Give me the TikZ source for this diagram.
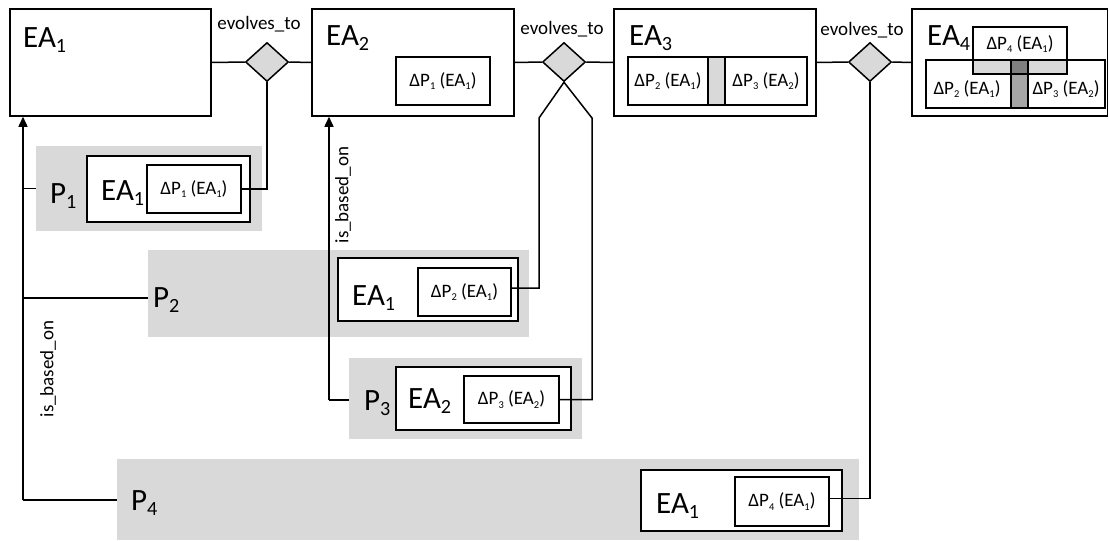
\documentclass[tikz,border=0pt]{standalone}
\usepackage{fontspec}
\setmainfont{Carlito}
\usepackage{graphicx}
\usetikzlibrary{shapes.geometric,arrows.meta,fit}
\definecolor{lgray}{HTML}{D9D9D9}
\definecolor{mgray}{HTML}{A6A6A6}
\definecolor{dgray}{HTML}{7F7F7F}
\newcommand\bsub[1]{\raisebox{-0.17em}{\scalebox{0.65}{#1}}}
\newcommand\ssub[1]{\raisebox{-0.2em}{\scalebox{0.55}{#1}}}
\newcommand\dP[2]{ΔP\ssub{#1} (EA\ssub{#2})}
\begin{document}
\begin{tikzpicture}[x=1pt,y=-1pt,
  bx/.style={draw,line width=1.5pt,fill=white,inner sep=0pt,rectangle},
  grayarea/.style={fill=lgray,draw=none,inner sep=0pt,rectangle},
  dia/.style={diamond,draw,line width=1.5pt,fill=lgray,minimum width=43pt,minimum height=39pt,inner sep=0pt},
  ln/.style={line width=1.5pt},
  arr/.style={-{Triangle[width=9pt,length=10pt]}},
  big/.style={font=\fontsize{31}{36}\selectfont,inner sep=0pt,anchor=base west},
  small/.style={font=\fontsize{19}{22}\selectfont,inner sep=0pt},
  lab/.style={font=\fontsize{19}{22}\selectfont,inner sep=0pt}]
\useasboundingbox (0,0) rectangle (1109,541);

% top row
\node[bx,fit={(10,9) (211,116)}] (ea1top) {};
\node[bx,fit={(312,9) (514,116)}] (ea2top) {};
\node[bx,fit={(614,9) (816,116)}] (ea3top) {};
\node[bx,fit={(912,9) (1107.5,116)}] (ea4top) {};
\node[big] (ea1lab) at (23,47) {EA\bsub{1}};
\node[big] (ea2lab) at (326,45) {EA\bsub{2}};
\node[big] (ea3lab) at (629,45) {EA\bsub{3}};
\node[big] (ea4lab) at (927,45) {EA\bsub{4}};

% EA2 content
\node[bx,fit={(396,57) (490,105)}] (e2d1) {};
\node[small] at (e2d1.center) {\dP{1}{1}};

% EA3 content
\draw[ln,fill=white] (628,57) rectangle (807,105);
\draw[ln,fill=lgray] (708,57) rectangle (725,105);
\node[small] (e3a) at (668,81) {\dP{2}{1}};
\node[small] (e3b) at (766,81) {\dP{3}{2}};

% EA4 content
\fill[white] (926,60) rectangle (1105,108);
\fill[white] (973,27) rectangle (1067,74);
\fill[lgray] (973,60) rectangle (1067,74);
\fill[mgray] (1011,74) rectangle (1028,108);
\fill[dgray] (1011,60) rectangle (1028,74);
\draw[ln] (926,60) rectangle (1105,108);
\draw[ln] (973,27) rectangle (1067,74);
\draw[ln] (1011,60) rectangle (1028,108);
\node[small] (e4a) at (1020,44) {\dP{4}{1}};
\node[small] (e4b) at (967,89) {\dP{2}{1}};
\node[small] (e4c) at (1066,89) {\dP{3}{2}};

% diamonds
\node[dia] (dm1) at (267,62) {};
\node[dia] (dm2) at (564,62) {};
\node[dia] (dm3) at (870,62) {};
\node[lab,anchor=base] (ev1) at (259,29) {evolves\_to};
\node[lab,anchor=base] (ev2) at (562,34) {evolves\_to};
\node[lab,anchor=base] (ev3) at (862,35) {evolves\_to};
\draw[ln] (ea1top.east) -- (dm1.west);
\draw[ln] (dm1.east) -- (ea2top.west);
\draw[ln] (ea2top.east) -- (dm2.west);
\draw[ln] (dm2.east) -- (ea3top.west);
\draw[ln] (ea3top.east) -- (dm3.west);
\draw[ln] (dm3.east) -- (ea4top.west);

% P1
\node[grayarea,fit={(36,146) (262,231)}] (p1) {};
\node[bx,fit={(87,156) (250,222)}] (p1ea) {};
\node[bx,fit={(147,165) (241,213)}] (d1) {};
\node[small] at (d1.center) {\dP{1}{1}};
\node[big] (p1lab) at (50,203) {P\bsub{1}};
\node[big] (p1ealab) at (101,200) {EA\bsub{1}};

% P2
\node[grayarea,fit={(148,250) (529,337)}] (p2) {};
\node[bx,fit={(338,258) (518,321)}] (p2ea) {};
\node[bx,fit={(418,268) (511,316)}] (d2) {};
\node[small] at (d2.center) {\dP{2}{1}};
\node[big] (p2lab) at (153,307) {P\bsub{2}};
\node[big] (p2ealab) at (352,305) {EA\bsub{1}};

% P3
\node[grayarea,fit={(349,358) (582,439)}] (p3) {};
\node[bx,fit={(396,367) (571,430)}] (p3ea) {};
\node[bx,fit={(464,376) (559,423)}] (d3) {};
\node[small] at (d3.center) {\dP{3}{2}};
\node[big] (p3lab) at (364,410) {P\bsub{3}};
\node[big] (p3ealab) at (408,408) {EA\bsub{2}};

% P4
\node[grayarea,fit={(117,459) (859,540)}] (p4) {};
\node[bx,fit={(641,470) (842,531)}] (p4ea) {};
\node[bx,fit={(735,477) (829,526)}] (d4) {};
\node[small] at (d4.center) {\dP{4}{1}};
\node[big] (p4lab) at (131,510) {P\bsub{4}};
\node[big] (p4ealab) at (656,513) {EA\bsub{1}};

% evolves connectors from deltas
\coordinate (k2) at (539,118);
\coordinate (k3) at (592,118);
\draw[ln] (dm1.south) |- (d1.east);
\draw[ln] ([yshift=4pt]d2.east) -| (k2) -- (dm2.south);
\draw[ln] (d3.east) -| (k3) -- (dm2.south);
\draw[ln] ([yshift=3pt]d4.east) -| (dm3.south);

% is_based_on trunks
\coordinate (t0) at (23,500);
\draw[ln,arr] (t0) -- (t0 |- ea1top.south);
\draw[ln] (t0 |- p1.west) -- (p1.west);
\coordinate (p2w) at ([yshift=-4.5pt]p2.west);
\draw[ln] (t0 |- p2w) -- (p2w);
\draw[ln] (t0) -- (t0 -| p4.west);
\node[lab,rotate=90] (isb1) at (48,369) {is\_based\_on};

\coordinate (u0) at (329,400);
\draw[ln,arr] (u0) -- (u0 |- ea2top.south);
\draw[ln] (u0) -- (u0 -| p3.west);
\node[lab,rotate=90] (isb2) at (343,195) {is\_based\_on};
\end{tikzpicture}
\end{document}
